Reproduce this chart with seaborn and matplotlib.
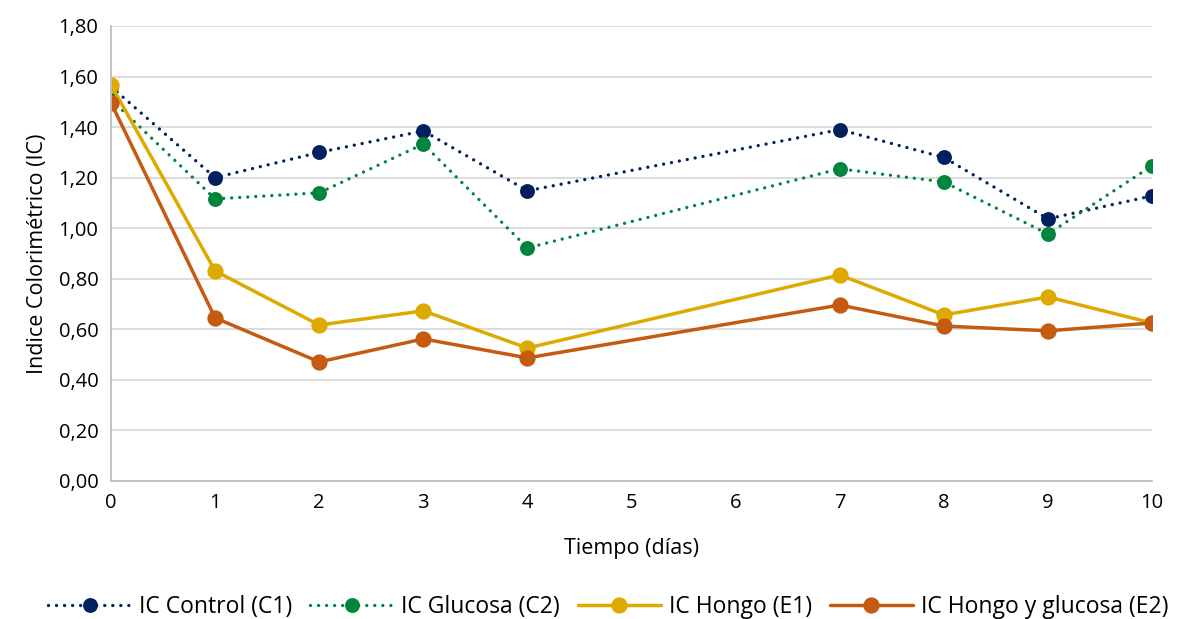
import matplotlib
matplotlib.use("Agg")
import matplotlib.pyplot as plt
import seaborn as sns
import pandas as pd
from matplotlib.ticker import FuncFormatter, MultipleLocator

dias = [0, 1, 2, 3, 4, 7, 8, 9, 10]
c1 = [1.56, 1.20, 1.30, 1.385, 1.148, 1.39, 1.28, 1.037, 1.128]
c2 = [1.51, 1.116, 1.14, 1.333, 0.922, 1.235, 1.183, 0.977, 1.247]
e1 = [1.567, 0.831, 0.617, 0.673, 0.526, 0.815, 0.657, 0.728, 0.625]
e2 = [1.496, 0.645, 0.471, 0.562, 0.487, 0.696, 0.613, 0.594, 0.625]
series_names = ["IC Control (C1)", "IC Glucosa (C2)", "IC Hongo (E1)", "IC Hongo y glucosa (E2)"]
colors = ["#002060", "#00853E", "#DDAA00", "#C55A11"]

sns.set_theme(style="white")
plt.rcParams['font.family'] = ['Open Sans', 'DejaVu Sans']
plt.rcParams['text.color'] = '#000000'
plt.rcParams['axes.labelcolor'] = '#000000'

fig = plt.figure(figsize=(11.81, 6.19), dpi=100)
ax = fig.add_axes([0.094, 0.223, 0.8815, 0.735])

values = [c1, c2, e1, e2]
dotted_flags = [True, True, False, False]
for name, vals, col, dotted in zip(series_names, values, colors, dotted_flags):
    df = pd.DataFrame({"dia": dias, "ic": vals})
    sns.lineplot(data=df, x="dia", y="ic", ax=ax, color=col, label=name,
                 linewidth=2.4 if dotted else 2.5,
                 marker="o", markersize=9.5 if dotted else 10.5,
                 markeredgecolor=col, markerfacecolor=col, markeredgewidth=1.2)
    if dotted:
        ln = ax.lines[-1]
        ln.set_dashes([0.01, 2.4])
        ln.set_dash_capstyle("round")

ax.set_xlim(0, 10)
ax.set_ylim(0, 1.8)
ax.xaxis.set_major_locator(MultipleLocator(1))
ax.yaxis.set_major_locator(MultipleLocator(0.2))
ax.yaxis.set_major_formatter(FuncFormatter(lambda v, p: f"{v:.2f}".replace(".", ",")))
ax.grid(axis="y", color="#D9D9D9", linewidth=1.3)
ax.grid(axis="x", visible=False)
for s in ["top", "right"]:
    ax.spines[s].set_visible(False)
for s in ["left", "bottom"]:
    ax.spines[s].set_color("#BFBFBF")
    ax.spines[s].set_linewidth(1.3)
ax.tick_params(axis="both", labelsize=14.5, colors="#000000", length=0, pad=9)
ax.set_xlabel("Tiempo (días)", fontsize=15.5, labelpad=18)
ax.set_ylabel("Indice Colorimétrico (IC)", fontsize=15.5, labelpad=8)
ax.set_axisbelow(True)
ax.legend_.remove()
handles, labels = ax.get_legend_handles_labels()
fig.legend(handles, labels, loc="lower center", bbox_to_anchor=(0.515, -0.033), ncol=4,
           frameon=False, fontsize=16.5, handlelength=3.6, columnspacing=0.8, handletextpad=0.35)

fig.savefig("out.png", dpi=100)
